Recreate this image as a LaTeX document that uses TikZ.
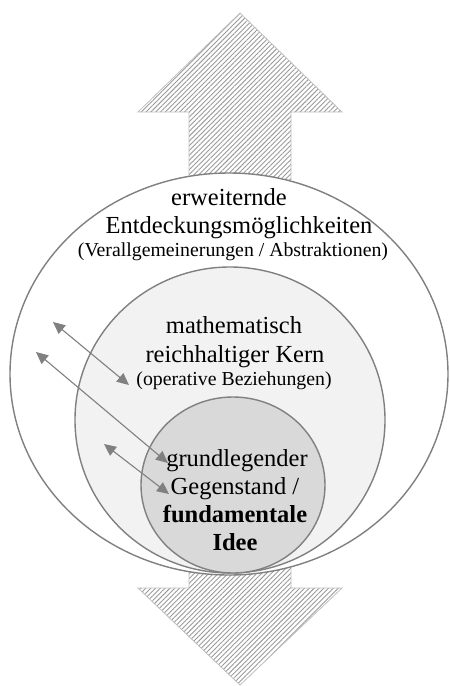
\documentclass[tikz,border=0pt]{standalone}
\usepackage{fontspec}
\setmainfont{Liberation Serif}
\usetikzlibrary{patterns.meta,arrows.meta}
\definecolor{ringgray}{HTML}{808080}
\definecolor{midfill}{HTML}{F2F2F2}
\definecolor{innerfill}{HTML}{D9D9D9}
\definecolor{hatchborder}{HTML}{BFBFBF}
\definecolor{hatchline}{HTML}{9A9A9A}
\begin{document}
\begin{tikzpicture}[x=1pt,y=-1pt,
  ring/.style={draw=ringgray,line width=1.4pt},
  bigarrow/.style={draw=hatchborder,line width=0.8pt,pattern={Lines[angle=45,distance=3.4pt,line width=0.9pt]},pattern color=hatchline},
  link/.style={draw=ringgray,line width=1.1pt,{Triangle[length=12pt,width=11pt]}-{Triangle[length=12pt,width=11pt]}},
  bigtxt/.style={anchor=base,inner sep=0pt,font=\fontsize{24.5}{29}\selectfont},
  smalltxt/.style={anchor=base,inner sep=0pt,font=\fontsize{19.8}{23}\selectfont},
  boldtxt/.style={anchor=base,inner sep=0pt,font=\fontsize{24.5}{29}\selectfont\bfseries}]
\useasboundingbox (0,0) rectangle (450,686);
% hatched arrows
\path[bigarrow] (189,180) -- (189,112) -- (138,112) -- (240,13) -- (342,112) -- (291,112) -- (291,180) -- cycle;
\path[bigarrow] (189,565) -- (189,588) -- (138,588) -- (240,685) -- (342,588) -- (291,588) -- (291,565) -- cycle;
% rings
\draw[ring,fill=white] (229,374) ellipse [x radius=219,y radius=201];
\draw[ring,fill=midfill] (230,420) ellipse [x radius=155,y radius=153];
\draw[ring,fill=innerfill] (233,485) ellipse [x radius=92,y radius=88];
% texts
\node[bigtxt] (o1) at (229,205) {erweiternde};
\node[bigtxt] (o2) at (239,233) {Entdeckungsmöglichkeiten};
\node[smalltxt] (o3) at (233,256) {(Verallgemeinerungen / Abstraktionen)};
\node[bigtxt] (m1) at (234,333) {mathematisch};
\node[bigtxt] (m2) at (235,362) {reichhaltiger Kern};
\node[smalltxt] (m3) at (234,385) {(operative Beziehungen)};
\node[bigtxt] (i1) at (237,466) {grundlegender};
\node[bigtxt] (i2) at (235,494) {Gegenstand /};
\node[boldtxt] (i3) at (235,522) {fundamentale};
\node[boldtxt] (i4) at (235,550) {Idee};
% link arrows
\coordinate (a1) at (53,322);
\coordinate (a2) at (36,352);
\coordinate (a3) at (104,444);
\coordinate (b1) at (129,385);
\coordinate (b2) at (168,463);
\coordinate (b3) at (169,494);
\draw[link] (a1) -- (b1);
\draw[link] (a2) -- (b2);
\draw[link] (a3) -- (b3);
\end{tikzpicture}
\end{document}
